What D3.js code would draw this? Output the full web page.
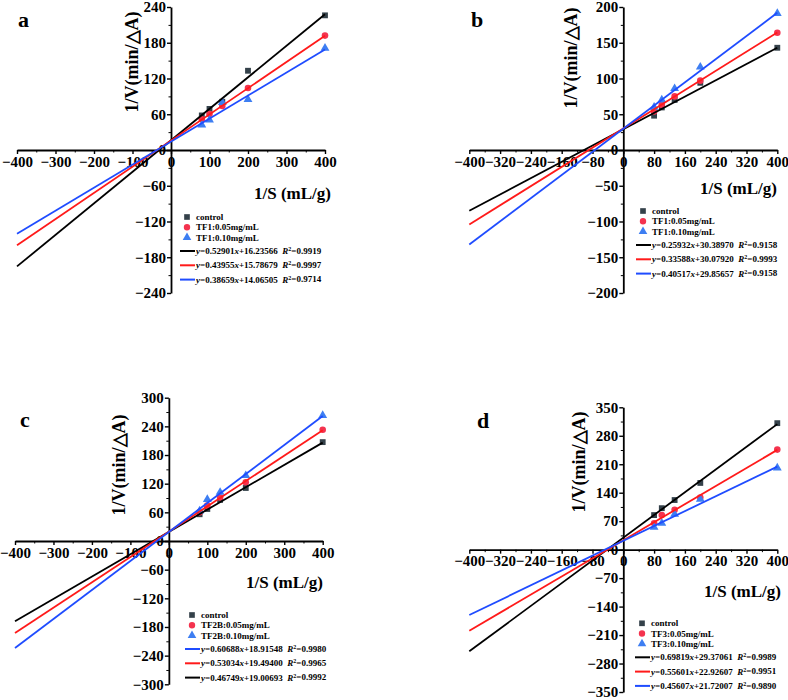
<!DOCTYPE html>
<html>
<head>
<meta charset="utf-8">
<script src="https://cdn.jsdelivr.net/npm/d3@7"></script>
<style>
  body { margin: 0; background: #fff; }
  text { font-family: "Liberation Serif", "Times New Roman", serif; font-weight: bold; }
</style>
</head>
<body>
<svg id="chart" width="788" height="700"></svg>
<script>
// 1/S values shared by all panels
const xValues = [80, 100, 133.3, 200, 400];

// panel a
const aControl = [58, 69, 81, 133, 226];
const aLow = [51.5, 60.5, 74, 104, 192];
const aHigh = [42, 50.5, 80, 85, 171];
const aSlopes = [0.52901, 0.43955, 0.38659];
const aIntercepts = [16.23566, 15.78679, 14.06505];
const aNames = ["control", "TF1:0.05mg/mL", "TF1:0.10mg/mL"];
const aEquations = [["0.52901", "16.23566", "0.9919"], ["0.43955", "15.78679", "0.9997"], ["0.38659", "14.06505", "0.9714"]];

// panel b
const bControl = [48, 59.5, 70, 94, 143];
const bLow = [54, 63, 75, 97, 164];
const bHigh = [60, 70, 86, 116, 191];
const bSlopes = [0.285, 0.33588, 0.40517];
const bIntercepts = [29, 30.0792, 29.85657];
const bNames = ["control", "TF1:0.05mg/mL", "TF1:0.10mg/mL"];
const bEquations = [["0.25932", "30.38970", "0.9158"], ["0.33588", "30.07920", "0.9993"], ["0.40517", "29.85657", "0.9158"]];

// panel c
const cControl = [56, 67, 86, 111, 207];
const cLow = [60, 74, 91, 123, 233];
const cHigh = [63, 87, 102, 137, 263];
const cSlopes = [0.46749, 0.53034, 0.60688];
const cIntercepts = [19.00693, 19.494, 18.91548];
const cNames = ["control", "TF2B:0.05mg/mL", "TF2B:0.10mg/mL"];
// legend lists blue first here
const cEquations = [["0.60688", "18.91548", "0.9980"], ["0.53034", "19.49400", "0.9965"], ["0.46749", "19.00693", "0.9992"]];

// panel d
const dControl = [85, 102, 122, 164, 311];
const dLow = [65, 85, 98, 128, 246];
const dHigh = [55, 65, 87, 124, 201];
const dSlopes = [0.69819, 0.55601, 0.45607];
const dIntercepts = [29.37061, 22.92607, 21.72007];
const dNames = ["control", "TF3:0.05mg/mL", "TF3:0.10mg/mL"];
const dEquations = [["0.69819", "29.37061", "0.9989"], ["0.55601", "22.92607", "0.9951"], ["0.45607", "21.72007", "0.9890"]];

const markerColors = ["#34414a", "#f4334f", "#3d7ef2"];
const lineColors = ["#000000", "#ff1a1a", "#1f4cff"];
const symbols = [d3.symbolSquare, d3.symbolCircle, d3.symbolTriangle];

const svg = d3.select("#chart");

function drawPanel(p) {
    const g = svg.append("g");
    const x = d3.scaleLinear().domain([-400, 400]).range(p.xr);
    const y = d3.scaleLinear().domain([-p.ymax, p.ymax]).range(p.yr);

    const xMajor = d3.range(-400, 401, p.xstep);
    const xMinor = d3.range(-400 + p.xstep / 2, 400, p.xstep);
    const yMajor = d3.range(-p.ymax, p.ymax + 1, p.ystep);
    const yMinor = d3.range(-p.ymax + p.ystep / 2, p.ymax, p.ystep);

    // minor ticks
    g.append("g").attr("transform", `translate(0,${y(0)})`)
        .call(d3.axisBottom(x).tickValues(xMinor).tickSize(2.5).tickFormat(""))
        .call(a => a.select(".domain").remove());
    g.append("g").attr("transform", `translate(${x(0)},0)`)
        .call(d3.axisLeft(y).tickValues(yMinor).tickSize(2.5).tickFormat(""))
        .call(a => a.select(".domain").remove());

    const xa = g.append("g").attr("transform", `translate(0,${y(0)})`)
        .call(d3.axisBottom(x).tickValues(xMajor).tickSize(4).tickSizeOuter(0).tickPadding(2));
    const ya = g.append("g").attr("transform", `translate(${x(0)},0)`)
        .call(d3.axisLeft(y).tickValues(yMajor).tickSize(4).tickSizeOuter(0).tickPadding(1));
    [xa, ya].forEach(a => {
        a.attr("font-size", null).attr("font-family", null);
        a.selectAll("text").attr("font-size", 15).attr("fill", "#000");
        a.selectAll("line").attr("stroke-width", 1.4);
        a.select(".domain").attr("stroke-width", 1.8);
    });

    // points, then fit lines on top
    const series = [p.control, p.low, p.high];
    series.forEach((vals, i) => {
        g.selectAll(null).data(vals).enter().append("path")
            .attr("d", d3.symbol().type(symbols[i]).size(34))
            .attr("transform", (v, j) => `translate(${x(xValues[j])},${y(v)})`)
            .attr("fill", markerColors[i]);
    });
    const line = d3.line().x(d => x(d[0])).y(d => y(d[1]));
    p.slopes.forEach((s, i) => {
        const ends = [-400, 400].map(v => [v, s * v + p.intercepts[i]]);
        g.append("path").attr("d", line(ends))
            .attr("stroke", lineColors[i]).attr("stroke-width", 1.8).attr("fill", "none");
    });

    // labels
    g.append("text").attr("x", p.letter[0]).attr("y", p.letter[1])
        .attr("font-size", 22).text(p.name);
    g.append("text").attr("x", p.xlab[0]).attr("y", p.xlab[1])
        .attr("text-anchor", "end").attr("font-size", 17).text("1/S (mL/g)");
    g.append("text").attr("transform", `translate(${p.ylab[0]},${p.ylab[1]}) rotate(-90)`)
        .attr("text-anchor", "middle").attr("dy", "0.35em").attr("font-size", 18)
        .text("1/V(min/△A)");

    // legend
    const lg = g.append("g").attr("transform", `translate(${p.legend[0]},${p.legend[1]})`);
    p.names.forEach((n, i) => {
        lg.append("path").attr("d", d3.symbol().type(symbols[i]).size(32))
            .attr("transform", `translate(7,${i * 10.2})`).attr("fill", markerColors[i]);
        lg.append("text").attr("x", 16).attr("y", i * 10.2).attr("dy", "0.35em")
            .attr("font-size", 9).text(n);
    });
    p.equations.forEach((e, i) => {
        const yy = 34 + i * 14.3;
        lg.append("line").attr("x1", 0).attr("x2", 15).attr("y1", yy).attr("y2", yy)
            .attr("stroke", lineColors[p.eqColors[i]]).attr("stroke-width", 2);
        const t = lg.append("text").attr("x", 16).attr("y", yy).attr("dy", "0.35em").attr("font-size", 9);
        t.append("tspan").attr("font-style", "italic").text("y");
        t.append("tspan").text(`=${e[0]}`);
        t.append("tspan").attr("font-style", "italic").text("x");
        t.append("tspan").text(`+${e[1]}\u00a0\u00a0`);
        t.append("tspan").attr("font-style", "italic").text("R");
        t.append("tspan").attr("font-size", 6).attr("dy", "-0.5em").text("2");
        t.append("tspan").attr("dy", "0.3em").text(`=${e[2]}`);
    });
}

drawPanel({
    name: "a", control: aControl, low: aLow, high: aHigh, slopes: aSlopes, intercepts: aIntercepts,
    names: aNames, equations: aEquations, eqColors: [0, 1, 2],
    xr: [17, 325], yr: [293, 7], ymax: 240, xstep: 100, ystep: 60,
    letter: [18, 27], xlab: [331, 199], ylab: [132, 62], legend: [180, 217]
});
drawPanel({
    name: "b", control: bControl, low: bLow, high: bHigh, slopes: bSlopes, intercepts: bIntercepts,
    names: bNames, equations: bEquations, eqColors: [0, 1, 2],
    xr: [469.3, 777.3], yr: [293, 7], ymax: 200, xstep: 80, ystep: 50,
    letter: [471, 27], xlab: [777, 194], ylab: [571, 58], legend: [636, 211]
});
drawPanel({
    name: "c", control: cControl, low: cLow, high: cHigh, slopes: cSlopes, intercepts: cIntercepts,
    names: cNames, equations: cEquations, eqColors: [2, 1, 0],
    xr: [15, 322.7], yr: [684.3, 397.7], ymax: 300, xstep: 100, ystep: 60,
    letter: [20, 427], xlab: [323, 588], ylab: [119, 465], legend: [185, 615]
});
drawPanel({
    name: "d", control: dControl, low: dLow, high: dHigh, slopes: dSlopes, intercepts: dIntercepts,
    names: dNames, equations: dEquations, eqColors: [0, 1, 2],
    xr: [469.3, 777.3], yr: [692, 407.3], ymax: 350, xstep: 80, ystep: 70,
    letter: [477, 428], xlab: [781, 597], ylab: [579, 462], legend: [635, 623.3]
});
</script>
</body>
</html>
